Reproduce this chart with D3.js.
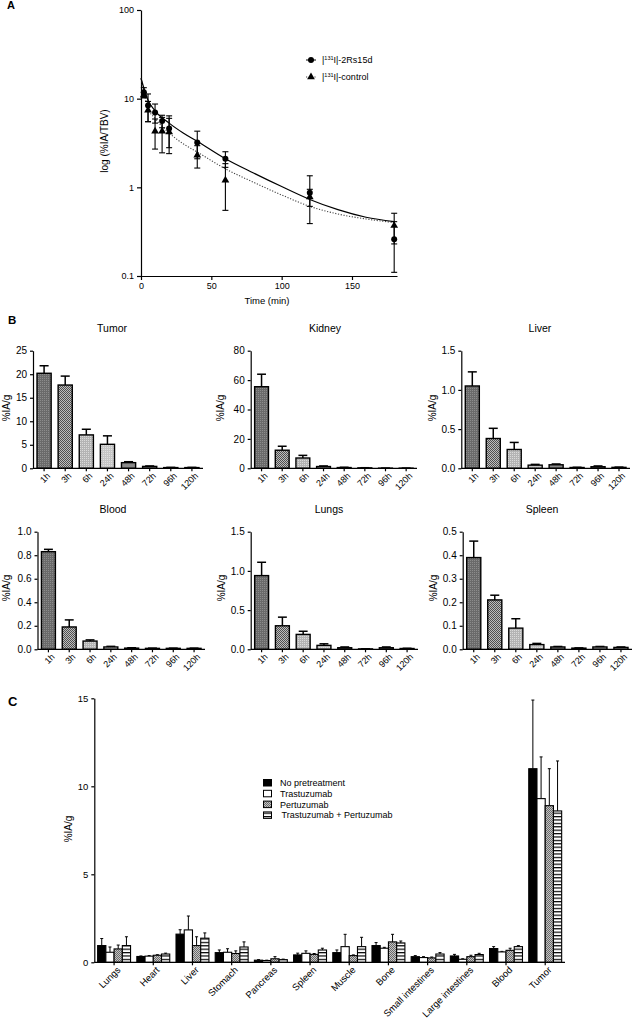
<!DOCTYPE html>
<html>
<head>
<meta charset="utf-8">
<script src="https://cdnjs.cloudflare.com/ajax/libs/d3/7.8.5/d3.min.js"></script>
<style>
body { margin: 0; background: #fff; }
svg { font-family: "Liberation Sans", Arial, sans-serif; }
.axis path, .axis line { stroke: #000; stroke-width: 1.2px; }
.axis text { fill: #000; }
</style>
</head>
<body>
<div id="chart"></div>
<script>
// ---- panel A data ----
var timesA = [2, 5, 10, 15, 20, 40, 60, 120, 180];
var rsMean = [11.8, 8.4, 7.0, 5.6, 4.6, 3.2, 2.1, 0.87, 0.26];
var rsSd   = [1.5, 2.9, 1.7, 0.9, 1.8, 1.1, 0.42, 0.48, 0.15];
var ctlMean = [11.0, 7.4, 4.3, 4.3, 4.2, 2.3, 1.2, 0.78, 0.37];
var ctlSd   = [0.8, 1.9, 1.6, 1.85, 1.8, 0.65, 0.65, 0.17, 0.14];
// fitted curves
var fitT   = [0, 5, 10, 20, 30, 40, 60, 80, 100, 120, 140, 160, 180];
var rsFit  = [17, 9.6, 7.3, 5.3, 4.1, 3.3, 2.1, 1.45, 1.02, 0.73, 0.56, 0.46, 0.41];
var ctlFit = [17, 7.8, 6.0, 4.1, 3.1, 2.5, 1.62, 1.14, 0.82, 0.61, 0.5, 0.44, 0.40];
var ticksA_y = [0.1, 1, 10, 100];
var ticksA_x = [0, 50, 100, 150];

// ---- panel B data ----
var timesB = ["1h", "3h", "6h", "24h", "48h", "72h", "96h", "120h"];
var tumorVal  = [20.2, 17.7, 7.1, 5.1, 1.2, 0.4, 0.15, 0.15];
var tumorSd   = [1.6, 1.9, 1.2, 1.8, 0.2, 0.1, 0.05, 0.05];
var kidneyVal = [55.5, 12.3, 7.0, 1.2, 0.5, 0.3, 0.1, 0.1];
var kidneySd  = [8.5, 2.7, 1.8, 0.4, 0.2, 0.1, 0.05, 0.05];
var liverVal  = [1.05, 0.38, 0.24, 0.04, 0.045, 0.01, 0.02, 0.012];
var liverSd   = [0.18, 0.13, 0.09, 0.01, 0.01, 0.003, 0.01, 0.003];
var bloodVal  = [0.83, 0.19, 0.07, 0.02, 0.01, 0.008, 0.008, 0.008];
var bloodSd   = [0.02, 0.06, 0.01, 0.005, 0.003, 0.002, 0.002, 0.002];
var lungsVal  = [0.94, 0.30, 0.19, 0.05, 0.02, 0.005, 0.02, 0.01];
var lungsSd   = [0.17, 0.11, 0.04, 0.02, 0.01, 0.002, 0.01, 0.003];
var spleenVal = [0.39, 0.21, 0.09, 0.02, 0.01, 0.005, 0.01, 0.008];
var spleenSd  = [0.07, 0.02, 0.04, 0.005, 0.002, 0.001, 0.002, 0.002];

// ---- panel C data ----
var organs = ["Lungs", "Heart", "Liver", "Stomach", "Pancreas", "Spleen", "Muscle", "Bone",
              "Small intestines", "Large intestines", "Blood", "Tumor"];
var groupsC = ["No pretreatment", "Trastuzumab", "Pertuzumab", "Trastuzumab + Pertuzumab"];
var noPre   = [0.95, 0.33, 1.6, 0.55, 0.12, 0.42, 0.55, 0.95, 0.32, 0.36, 0.78, 11.0];
var noPreSd = [0.4, 0.03, 0.25, 0.15, 0.03, 0.1, 0.15, 0.17, 0.06, 0.09, 0.11, 3.9];
var trast   = [0.57, 0.35, 1.84, 0.57, 0.1, 0.51, 0.89, 0.8, 0.27, 0.17, 0.59, 9.3];
var trastSd = [0.3, 0.03, 0.79, 0.2, 0.02, 0.14, 0.7, 0.05, 0.05, 0.03, 0.03, 2.37];
var pert    = [0.76, 0.4, 0.95, 0.5, 0.2, 0.45, 0.38, 1.16, 0.25, 0.32, 0.68, 8.9];
var pertSd  = [0.22, 0.03, 0.5, 0.15, 0.12, 0.05, 0.04, 0.43, 0.05, 0.08, 0.12, 2.1];
var combo   = [0.95, 0.47, 1.37, 0.87, 0.15, 0.7, 0.89, 1.1, 0.47, 0.44, 0.89, 8.6];
var comboSd = [0.5, 0.05, 0.3, 0.29, 0.03, 0.1, 0.53, 0.11, 0.08, 0.07, 0.06, 2.84];

var svg = d3.select("#chart").append("svg")
    .attr("width", 636)
    .attr("height", 1020);

// patterns
var defs = svg.append("defs");
function pattern(id, bg, fg, size, cells) {
    var p = defs.append("pattern").attr("id", id)
        .attr("patternUnits", "userSpaceOnUse")
        .attr("width", size).attr("height", size);
    p.append("rect").attr("width", size).attr("height", size).attr("fill", bg);
    cells.forEach(function(c) {
        p.append("rect").attr("x", c[0]).attr("y", c[1]).attr("width", c[2]).attr("height", c[3]).attr("fill", fg);
    });
}
pattern("bDark", "#6a6a6a", "#8c8c8c", 2, [[0, 0, 1, 1]]);
pattern("bCheck", "#bdbdbd", "#505050", 2, [[0, 0, 1, 1], [1, 1, 1, 1]]);
pattern("bLight", "#b4b4b4", "#dadada", 2, [[0, 0, 1, 1]]);
pattern("bLight2", "#c6c6c6", "#e0e0e0", 2, [[1, 1, 1, 1]]);
pattern("cCheck", "#c4c4c4", "#6a6a6a", 2, [[0, 0, 1, 1], [1, 1, 1, 1]]);
pattern("cStripe", "#fff", "#000", 3.4, [[0, 0, 3.4, 1.2]]);

var fillsB = ["url(#bDark)", "url(#bCheck)", "url(#bLight)", "url(#bLight2)", "#8a8a8a", "#999", "#aaa", "#bbb"];
var fillsC = ["#000", "#fff", "url(#cCheck)", "url(#cStripe)"];

function letter(t, x, y, size) {
    svg.append("text").attr("x", x).attr("y", y)
        .attr("font-size", size + "px").attr("font-weight", "bold").text(t);
}

// ================= Panel A =================
letter("A", 7, 9, 11);
var xA = d3.scaleLinear().domain([0, 182]).range([141, 397]);
var yA = d3.scaleLog().domain([0.1, 100]).range([276, 10]);

svg.append("g").attr("class", "axis")
    .attr("transform", "translate(0,276)")
    .call(d3.axisBottom(xA).tickValues(ticksA_x).tickSize(4).tickSizeOuter(0))
    .attr("font-size", "9px");
svg.append("g").attr("class", "axis")
    .attr("transform", "translate(141,0)")
    .call(d3.axisLeft(yA).tickValues(ticksA_y).tickFormat(function(d) { return d; }).tickSize(4).tickSizeOuter(0))
    .attr("font-size", "9px");

svg.append("text").attr("x", 267).attr("y", 304)
    .attr("text-anchor", "middle").attr("font-size", "9.5px").text("Time (min)");
svg.append("text").attr("transform", "translate(104,141) rotate(-90)")
    .attr("text-anchor", "middle").attr("dy", "0.35em").attr("font-size", "10px").text("log (%IA/TBV)");

var lineA = d3.line().curve(d3.curveMonotoneX)
    .x(function(d) { return xA(d[0]); })
    .y(function(d) { return yA(d[1]); });

svg.append("path").datum(fitT.map(function(t, i) { return [t, ctlFit[i]]; }))
    .attr("d", lineA).attr("fill", "none").attr("stroke", "#444")
    .attr("stroke-width", 1.1).attr("stroke-dasharray", "1.2,1.6");
svg.append("path").datum(fitT.map(function(t, i) { return [t, rsFit[i]]; }))
    .attr("d", lineA).attr("fill", "none").attr("stroke", "#000").attr("stroke-width", 1.2);

function errA(mean, sd) {
    var g = svg.append("g").attr("stroke", "#000").attr("stroke-width", 1.1);
    timesA.forEach(function(t, i) {
        var lo = Math.max(mean[i] - sd[i], 0.1), hi = mean[i] + sd[i];
        var cx = xA(t);
        g.append("line").attr("x1", cx).attr("x2", cx).attr("y1", yA(lo)).attr("y2", yA(hi));
        g.append("line").attr("x1", cx - 3).attr("x2", cx + 3).attr("y1", yA(lo)).attr("y2", yA(lo));
        g.append("line").attr("x1", cx - 3).attr("x2", cx + 3).attr("y1", yA(hi)).attr("y2", yA(hi));
    });
}
errA(ctlMean, ctlSd);
errA(rsMean, rsSd);

var tri = d3.symbol().type(d3.symbolTriangle).size(26);
svg.append("g").selectAll("path").data(timesA).enter().append("path")
    .attr("d", tri)
    .attr("transform", function(d, i) { return "translate(" + xA(d) + "," + yA(ctlMean[i]) + ")"; })
    .attr("fill", "#000");
svg.append("g").selectAll("circle").data(timesA).enter().append("circle")
    .attr("cx", function(d) { return xA(d); })
    .attr("cy", function(d, i) { return yA(rsMean[i]); })
    .attr("r", 3).attr("fill", "#000");

// legend A
var legA = svg.append("g").attr("font-size", "9px");
legA.append("line").attr("x1", 306).attr("x2", 316).attr("y1", 60).attr("y2", 60).attr("stroke", "#000");
legA.append("circle").attr("cx", 311).attr("cy", 60).attr("r", 3).attr("fill", "#000");
legA.append("line").attr("x1", 306).attr("x2", 316).attr("y1", 77).attr("y2", 77)
    .attr("stroke", "#444").attr("stroke-dasharray", "1.2,1.6");
legA.append("path").attr("d", tri).attr("transform", "translate(311,77)").attr("fill", "#000");
[["-2Rs15d", 63], ["-control", 80]].forEach(function(l) {
    var t = legA.append("text").attr("x", 322).attr("y", l[1]);
    t.append("tspan").text("|");
    t.append("tspan").attr("font-size", "5.5px").attr("dy", -3.5).text("131");
    t.append("tspan").attr("dy", 3.5).text("I|" + l[0]);
});

// ================= Panel B =================
letter("B", 8, 323.5, 11.5);
var panelsB = [
    { name: "Tumor",  vals: tumorVal,  sd: tumorSd,  max: 25,  ticks: [0, 5, 10, 15, 20, 25], fmt: "d",
      x0: 33, x1: 203, yb: 468.3, yt: 350.7, tx: 112, ty: 332, lx: 6, ly: 408 },
    { name: "Kidney", vals: kidneyVal, sd: kidneySd, max: 80,  ticks: [0, 20, 40, 60, 80], fmt: "d",
      x0: 250.7, x1: 417, yb: 468.3, yt: 350.7, tx: 325, ty: 332, lx: 220, ly: 408 },
    { name: "Liver",  vals: liverVal,  sd: liverSd,  max: 1.5, ticks: [0, 0.5, 1.0, 1.5], fmt: ".1f",
      x0: 461.3, x1: 630, yb: 468.3, yt: 350.7, tx: 540, ty: 332, lx: 432, ly: 408 },
    { name: "Blood",  vals: bloodVal,  sd: bloodSd,  max: 1.0, ticks: [0, 0.2, 0.4, 0.6, 0.8, 1.0], fmt: ".1f",
      x0: 37.5, x1: 205, yb: 649.3, yt: 531.7, tx: 113, ty: 513, lx: 6, ly: 588 },
    { name: "Lungs",  vals: lungsVal,  sd: lungsSd,  max: 1.5, ticks: [0, 0.5, 1.0, 1.5], fmt: ".1f",
      x0: 250.7, x1: 418, yb: 649.3, yt: 531.7, tx: 329, ty: 513, lx: 221.5, ly: 588 },
    { name: "Spleen", vals: spleenVal, sd: spleenSd, max: 0.5, ticks: [0, 0.1, 0.2, 0.3, 0.4, 0.5], fmt: ".1f",
      x0: 462.7, x1: 632, yb: 649.3, yt: 531.7, tx: 542, ty: 513, lx: 433.5, ly: 588 }
];

panelsB.forEach(function(p) {
    var x = d3.scaleBand().domain(timesB).range([p.x0, p.x1]).paddingInner(0.33).paddingOuter(0.19);
    var y = d3.scaleLinear().domain([0, p.max]).range([p.yb, p.yt]);
    var g = svg.append("g");
    var w = x.bandwidth();

    // error bars (upper only)
    var eg = g.append("g").attr("stroke", "#000").attr("stroke-width", 1.5);
    timesB.forEach(function(t, i) {
        var cx = x(t) + w / 2, top = y(p.vals[i] + p.sd[i]);
        eg.append("line").attr("x1", cx).attr("x2", cx).attr("y1", y(p.vals[i])).attr("y2", top);
        eg.append("line").attr("x1", cx - w * 0.32).attr("x2", cx + w * 0.32).attr("y1", top).attr("y2", top);
    });

    g.selectAll("rect").data(timesB).enter().append("rect")
        .attr("x", function(d) { return x(d); })
        .attr("width", w)
        .attr("y", function(d, i) { return y(p.vals[i]); })
        .attr("height", function(d, i) { return p.yb - y(p.vals[i]); })
        .attr("fill", function(d, i) { return fillsB[i]; })
        .attr("stroke", "#000").attr("stroke-width", 1.4);

    g.append("g").attr("class", "axis")
        .attr("transform", "translate(" + p.x0 + ",0)")
        .call(d3.axisLeft(y).tickValues(p.ticks).tickFormat(d3.format(p.fmt)).tickSize(3).tickSizeOuter(0))
        .attr("font-size", "10px");

    var xa = g.append("g").attr("class", "axis")
        .attr("transform", "translate(0," + p.yb + ")")
        .call(d3.axisBottom(x).tickSize(3).tickSizeOuter(0))
        .attr("font-size", "9px");
    xa.select(".domain").attr("d", "M" + p.x0 + ",0H" + p.x1);
    xa.selectAll("text")
        .attr("text-anchor", "end")
        .attr("dx", "-0.1em").attr("dy", "0.5em")
        .attr("transform", "rotate(-45)");

    g.append("text").attr("x", p.tx).attr("y", p.ty).attr("text-anchor", "middle")
        .attr("font-size", "10.5px").text(p.name);
    g.append("text").attr("transform", "translate(" + p.lx + "," + p.ly + ") rotate(-90)")
        .attr("text-anchor", "middle").attr("dy", "0.35em").attr("font-size", "10px").text("%IA/g");
});

// ================= Panel C =================
letter("C", 8, 706, 13);
var xC = d3.scaleBand().domain(organs).range([94.3, 565]).paddingInner(0.16).paddingOuter(0.085);
var xSub = d3.scaleBand().domain(groupsC).range([0, xC.bandwidth()]);
var yC = d3.scaleLinear().domain([0, 15]).range([962.3, 698.3]);
var seriesC = [[noPre, noPreSd], [trast, trastSd], [pert, pertSd], [combo, comboSd]];

var gC = svg.append("g");
seriesC.forEach(function(s, k) {
    var gs = gC.append("g");
    var bw = xSub.bandwidth();
    organs.forEach(function(o, i) {
        var x0 = xC(o) + xSub(groupsC[k]);
        var cx = x0 + bw / 2, top = yC(s[0][i] + s[1][i]);
        gs.append("line").attr("x1", cx).attr("x2", cx).attr("y1", yC(s[0][i])).attr("y2", top)
            .attr("stroke", "#000").attr("stroke-width", 1);
        gs.append("line").attr("x1", cx - 1.5).attr("x2", cx + 1.5).attr("y1", top).attr("y2", top)
            .attr("stroke", "#000").attr("stroke-width", 1);
    });
    gs.selectAll("rect").data(organs).enter().append("rect")
        .attr("x", function(d) { return xC(d) + xSub(groupsC[k]); })
        .attr("width", bw)
        .attr("y", function(d, i) { return yC(s[0][i]); })
        .attr("height", function(d, i) { return 962.3 - yC(s[0][i]); })
        .attr("fill", fillsC[k])
        .attr("stroke", "#000").attr("stroke-width", 1.1);
});

gC.append("g").attr("class", "axis")
    .attr("transform", "translate(94.3,0)")
    .call(d3.axisLeft(yC).tickValues([0, 5, 10, 15]).tickSize(3).tickSizeOuter(0))
    .attr("font-size", "9.5px");
var xaC = gC.append("g").attr("class", "axis")
    .attr("transform", "translate(0,962.3)")
    .call(d3.axisBottom(xC).tickSize(3).tickSizeOuter(0))
    .attr("font-size", "9.5px");
xaC.select(".domain").attr("d", "M94.3,0H565");
xaC.selectAll("text")
    .attr("text-anchor", "end")
    .attr("dx", "-0.1em").attr("dy", "0.5em")
    .attr("transform", "rotate(-45)");

svg.append("text").attr("transform", "translate(68,829) rotate(-90)")
    .attr("text-anchor", "middle").attr("dy", "0.35em").attr("font-size", "10px").text("%IA/g");

var legC = svg.append("g").attr("font-size", "9px");
groupsC.forEach(function(gname, k) {
    var yy = 779.5 + k * 10.8;
    legC.append("rect").attr("x", 263.5).attr("y", yy).attr("width", 8).attr("height", 6.5)
        .attr("fill", fillsC[k]).attr("stroke", "#000").attr("stroke-width", 1);
    legC.append("text").attr("x", k === 3 ? 281.5 : 280).attr("y", yy + 6.5).text(gname);
});
</script>
</body>
</html>
